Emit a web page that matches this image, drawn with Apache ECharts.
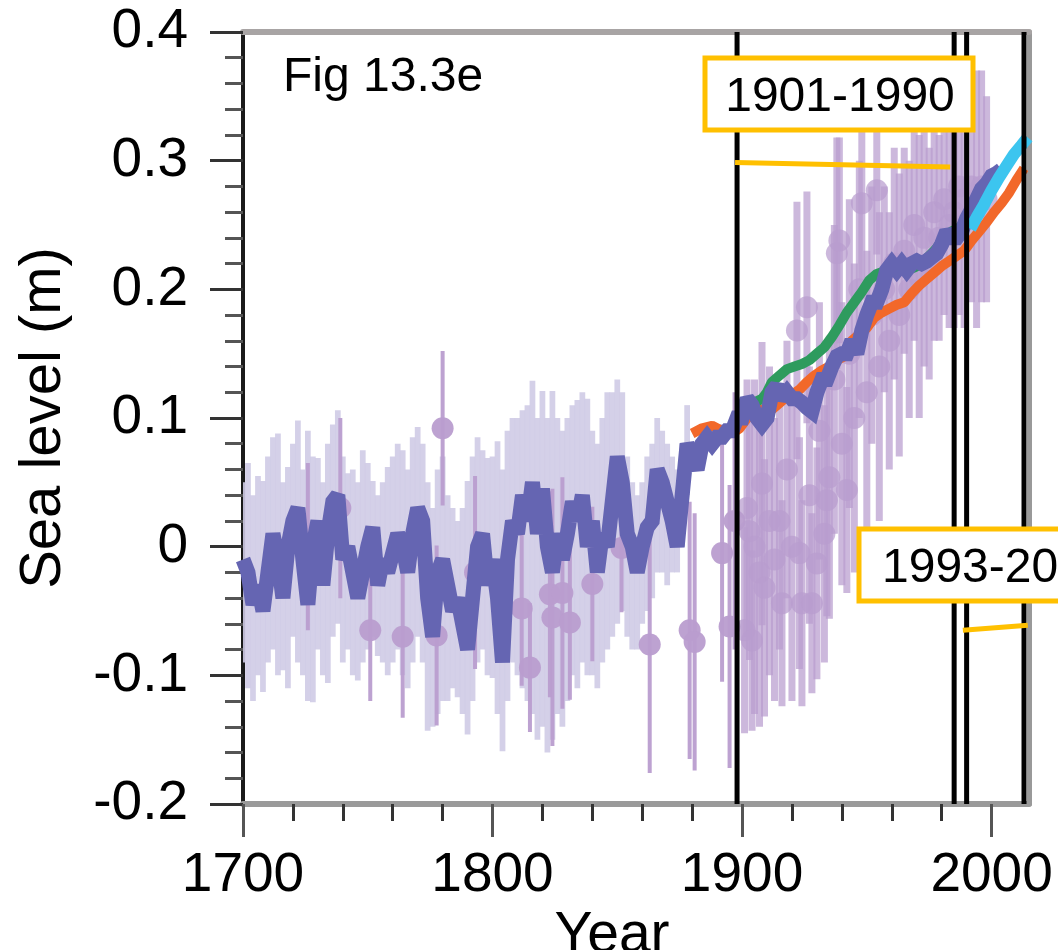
<!DOCTYPE html>
<html>
<head>
<meta charset="utf-8">
<script src="https://cdn.jsdelivr.net/npm/echarts@6/dist/echarts.min.js"></script>
<style>
html,body{margin:0;padding:0;background:#fff;}
#chart{width:1058px;height:950px;}
</style>
</head>
<body>
<div id="chart"></div>
<script>
// ---------------- DATA ----------------
const xMinorTicks = [1700,1720,1740,1760,1780,1800,1820,1840,1860,1880,1900,1920,1940,1960,1980,2000];
const xMajorTicks = [1700,1800,1900,2000];
const xTickLabels = [1700,1800,1900,2000];
const yTickLabels = [-0.2,-0.1,0,0.1,0.2,0.3,0.4];

// reconstruction (thick blue-violet line) [year, sea level m]
const reconstruction = [
[1700,-0.01],[1702,-0.02],[1704,-0.045],[1706,-0.03],[1708,-0.05],[1710,-0.02],[1712,0.01],[1714,-0.01],
[1716,-0.04],[1718,0.0],[1720,0.02],[1722,0.03],[1724,-0.01],[1726,-0.045],[1728,0.0],[1730,0.02],
[1732,-0.03],[1734,0.01],[1736,0.035],[1738,0.04],[1740,-0.01],[1742,0.0],[1744,-0.02],[1746,-0.04],
[1748,-0.02],[1750,0.0],[1752,0.015],[1754,-0.03],[1756,-0.01],[1758,-0.02],[1760,-0.005],[1762,0.01],
[1764,0.0],[1766,-0.02],[1768,0.01],[1770,0.03],[1772,0.02],[1774,-0.04],[1776,-0.07],[1778,-0.02],
[1780,-0.01],[1782,-0.03],[1784,-0.05],[1786,-0.04],[1788,-0.06],[1790,-0.08],[1792,-0.04],[1794,0.0],
[1796,0.01],[1798,-0.03],[1800,-0.01],[1802,-0.04],[1804,-0.09],[1806,-0.01],[1808,0.02],[1810,0.01],
[1812,0.04],[1814,0.02],[1816,0.05],[1818,0.01],[1820,0.045],[1822,0.0],[1824,-0.02],[1826,0.01],
[1828,-0.01],[1830,0.01],[1832,0.035],[1834,0.02],[1836,0.04],[1838,0.0],[1840,0.02],[1842,-0.02],
[1844,0.01],[1846,0.0],[1848,0.035],[1850,0.07],[1852,0.05],[1854,0.01],[1856,0.0],[1858,-0.02],
[1860,0.0],[1862,0.015],[1864,0.02],[1866,0.06],[1868,0.05],[1870,0.035],[1872,0.02],[1874,0.0],
[1876,0.04],[1878,0.08],[1880,0.07],[1882,0.06],[1884,0.08],[1886,0.085],[1888,0.08],[1890,0.085],
[1892,0.085],[1894,0.09],[1896,0.09],[1898,0.1],[1900,0.1],[1902,0.115],[1904,0.11],[1906,0.1],
[1908,0.095],[1910,0.1],[1912,0.12],[1914,0.125],[1916,0.115],[1918,0.12],[1920,0.115],[1922,0.115],
[1924,0.112],[1926,0.108],[1928,0.105],[1930,0.12],[1932,0.13],[1934,0.13],[1936,0.14],[1938,0.148],
[1940,0.15],[1942,0.15],[1944,0.16],[1946,0.15],[1948,0.168],[1950,0.18],[1952,0.19],[1954,0.19],
[1956,0.2],[1958,0.215],[1960,0.22],[1962,0.215],[1964,0.22],[1966,0.215],[1968,0.22],[1970,0.222],
[1972,0.22],[1974,0.222],[1976,0.225],[1978,0.228],[1980,0.235],[1982,0.245],[1984,0.24],[1986,0.24],
[1988,0.245],[1990,0.255],[1992,0.262],[1994,0.27],[1996,0.278],[1998,0.282],[2000,0.288],[2002,0.29],[2004,0.293]
];

// uncertainty band of the reconstruction [year, lower, upper]
const reconBand = [
[1700,-0.09,0.05],[1702,-0.11,0.065],[1704,-0.12,0.04],[1706,-0.1,0.055],[1708,-0.113,0.051],[1710,-0.09,0.07],
[1712,-0.08,0.085],[1714,-0.1,0.088],[1716,-0.096,0.05],[1718,-0.11,0.062],[1720,-0.07,0.08],[1722,-0.09,0.098],
[1724,-0.1,0.06],[1726,-0.12,0.09],[1728,-0.121,0.07],[1730,-0.08,0.069],[1732,-0.1,0.05],[1734,-0.106,0.08],
[1736,-0.07,0.095],[1738,-0.06,0.106],[1740,-0.09,0.07],[1742,-0.08,0.057],[1744,-0.1,0.06],[1746,-0.104,0.05],
[1748,-0.09,0.075],[1750,-0.08,0.065],[1752,-0.07,0.051],[1754,-0.085,0.04],[1756,-0.09,0.05],[1758,-0.1,0.062],
[1760,-0.09,0.07],[1762,-0.08,0.08],[1764,-0.1,0.075],[1766,-0.11,0.06],[1768,-0.09,0.085],[1770,-0.07,0.093],
[1772,-0.09,0.08],[1774,-0.143,0.05],[1776,-0.14,0.03],[1778,-0.13,0.06],[1780,-0.12,0.07],[1782,-0.12,0.04],
[1784,-0.11,0.03],[1786,-0.117,0.02],[1788,-0.13,0.03],[1790,-0.146,0.051],[1792,-0.12,0.07],[1794,-0.09,0.085],
[1796,-0.08,0.075],[1798,-0.1,0.069],[1800,-0.102,0.07],[1802,-0.13,0.082],[1804,-0.159,0.06],[1806,-0.12,0.09],
[1808,-0.09,0.1],[1810,-0.1,0.1],[1812,-0.11,0.106],[1814,-0.12,0.11],[1816,-0.13,0.129],[1818,-0.15,0.1],
[1820,-0.14,0.121],[1822,-0.16,0.1],[1824,-0.15,0.121],[1826,-0.13,0.1],[1828,-0.14,0.09],[1830,-0.12,0.1],
[1832,-0.1,0.11],[1834,-0.11,0.114],[1836,-0.09,0.12],[1838,-0.1,0.115],[1840,-0.1,0.09],[1842,-0.11,0.08],
[1844,-0.09,0.1],[1846,-0.08,0.12],[1848,-0.07,0.12],[1850,-0.06,0.13],[1852,-0.05,0.12],[1854,-0.07,0.07],
[1856,-0.08,0.05],[1858,-0.08,0.04],[1860,-0.06,0.05],[1862,-0.05,0.07],[1864,-0.04,0.08],[1866,-0.02,0.1],
[1868,-0.02,0.09],[1870,-0.03,0.08],[1872,-0.02,0.07],[1874,-0.02,0.06],[1876,0.0,0.08],[1878,0.04,0.11]
];

// individual estimates with error bars [year, value, half-error]
const estimatesEarly = [
[1726,0.0,0.065],[1739,0.03,0.07],[1751,-0.065,0.055],[1764,-0.07,0.063],[1777.6,-0.069,0.07],[1780,0.092,0.06],
[1793,-0.02,0.075],[1811.7,-0.048,0.06],[1815,-0.094,0.05],[1823,-0.037,0.08],[1824,-0.055,0.1],[1828,-0.036,0.09],
[1831,-0.059,0.06],[1840,-0.029,0.06],[1851.7,-0.001,0.05],[1863,-0.076,0.1],[1879,-0.065,0.1],[1881,-0.074,0.1],
[1892,-0.005,0.1],[1895,-0.062,0.11],[1897,0.02,0.1]
];
const estimatesLate = [
[1901,-0.065,0.08],[1902,0.03,0.1],[1903,0.012,0.1],[1904,-0.073,0.07],[1905,0.0,0.13],[1907,-0.02,0.12],
[1908,0.049,0.11],[1909,-0.032,0.1],[1911,0.02,0.12],[1913,-0.01,0.11],[1915,0.02,0.1],[1916,-0.044,0.08],
[1918,0.06,0.1],[1920,0.0,0.12],[1922,0.168,0.1],[1923,-0.005,0.09],[1924,-0.044,0.08],[1926,0.186,0.09],
[1927,0.04,0.1],[1928,-0.044,0.07],[1930,-0.013,0.09],[1931,0.09,0.1],[1933,0.01,0.1],[1934,0.036,0.09],
[1935,0.054,0.11],[1937,0.13,0.12],[1938,0.228,0.09],[1939,0.238,0.08],[1940,0.08,0.11],[1942,0.044,0.08],
[1943,0.15,0.12],[1945,0.1,0.12],[1947,0.2,0.1],[1948,0.267,0.06],[1950,0.12,0.11],[1952,0.18,0.1],
[1954,0.277,0.05],[1955,0.14,0.12],[1957,0.2,0.08],[1959,0.16,0.1],[1961,0.22,0.09],[1963,0.18,0.11],
[1965,0.23,0.08],[1967,0.2,0.1],[1969,0.25,0.09],[1971,0.21,0.11],[1973,0.24,0.1],[1975,0.22,0.09],
[1977,0.26,0.1],[1979,0.24,0.08],[1981,0.27,0.09],[1983,0.25,0.08],[1985,0.26,0.09],[1987,0.28,0.1],
[1989,0.27,0.1],[1992,0.28,0.09],[1994,0.27,0.1],[1996,0.28,0.09],[1998,0.27,0.08]
];

const greenSeries = [
[1905,0.112],[1908,0.115],[1910,0.12],[1912,0.128],[1915,0.133],[1918,0.138],[1921,0.14],[1924,0.142],
[1927,0.145],[1930,0.15],[1933,0.155],[1936,0.163],[1939,0.172],[1942,0.182],[1945,0.19],[1948,0.198],
[1951,0.207],[1954,0.212],[1957,0.214],[1960,0.215],[1963,0.214],[1966,0.215],[1969,0.217],[1972,0.22],
[1975,0.226],[1978,0.232],[1981,0.24],[1984,0.245],[1987,0.248],[1990,0.252]
];
const orangeSeries = [
[1880,0.088],[1884,0.092],[1888,0.094],[1892,0.09],[1896,0.088],[1899,0.092],[1902,0.1],[1905,0.108],
[1908,0.106],[1911,0.105],[1914,0.11],[1917,0.115],[1920,0.118],[1923,0.122],[1926,0.128],[1929,0.133],
[1932,0.137],[1935,0.14],[1938,0.145],[1941,0.148],[1944,0.16],[1947,0.165],[1950,0.17],[1953,0.178],
[1956,0.182],[1959,0.185],[1962,0.188],[1965,0.19],[1968,0.197],[1971,0.203],[1974,0.208],[1977,0.213],
[1980,0.218],[1983,0.222],[1986,0.226],[1989,0.23],[1992,0.238],[1995,0.245],[1998,0.252],[2001,0.26],
[2004,0.267],[2007,0.275],[2010,0.285],[2013,0.294]
];
const cyanSeries = [
[1991.5,0.247],[1994,0.256],[1997,0.266],[2000,0.277],[2003,0.287],[2006,0.296],[2009,0.305],[2012,0.312],[2014.5,0.318]
];

const periodLines = [1898,1985,1990,2013];
const trend1901 = [[1897.2,0.2985],[1983.4,0.295]];
const trend1993 = [[1988.5,-0.065],[2014.5,-0.061]];

// ---------------- CHART ----------------
const FONT = '"Liberation Sans", Arial, sans-serif';
const PURPLE = '#b99dcf';

function errRender(width, opacity) {
  return function (params, api) {
    const x = api.value(0), v = api.value(1), e = api.value(2);
    const t = api.coord([x, v + e]), b = api.coord([x, v - e]), c = api.coord([x, v]);
    return {
      type: 'group',
      children: [
        {type: 'line', shape: {x1: t[0], y1: t[1], x2: b[0], y2: b[1]},
         style: {stroke: PURPLE, lineWidth: width, opacity: opacity}},
        {type: 'circle', shape: {cx: c[0], cy: c[1], r: 11},
         style: {fill: PURPLE, opacity: opacity}}
      ]
    };
  };
}

const chart = echarts.init(document.getElementById('chart'), null, {renderer: 'canvas'});
const option = {
  animation: false,
  backgroundColor: '#fff',
  textStyle: {fontFamily: FONT},
  grid: {left: 243, top: 32, width: 786, height: 772, containLabel: false, outerBoundsMode: 'none'},
  xAxis: [
    {
      type: 'value', min: 1700, max: 2015, position: 'bottom',
      name: 'Year', nameLocation: 'middle', nameGap: 95,
      nameTextStyle: {fontSize: 57, color: '#000', fontFamily: FONT, padding: [0, 48, 0, 0]},
      axisLine: {onZero: false, lineStyle: {color: '#9a9a9a', width: 6}},
      axisTick: {show: true, customValues: xMinorTicks, length: 17, lineStyle: {color: '#333', width: 3}},
      axisLabel: {customValues: xTickLabels, fontSize: 55, color: '#000', margin: 44, fontFamily: FONT,
                  formatter: function (v) { return String(Math.round(v)); }},
      splitLine: {show: false}
    },
    {
      type: 'value', min: 1700, max: 2015, position: 'bottom',
      axisLine: {show: false, onZero: false},
      axisTick: {show: true, customValues: xMajorTicks, length: 33, lineStyle: {color: '#555', width: 3}},
      axisLabel: {show: false},
      splitLine: {show: false}
    },
    {
      type: 'value', min: 1700, max: 2015, position: 'top',
      axisLine: {show: true, onZero: false, lineStyle: {color: '#a8a4a4', width: 6}},
      axisTick: {show: false}, axisLabel: {show: false}, splitLine: {show: false}
    }
  ],
  yAxis: [
    {
      type: 'value', min: -0.2, max: 0.4, interval: 0.1, position: 'left',
      name: 'Sea level (m)', nameLocation: 'middle', nameGap: 170,
      nameTextStyle: {fontSize: 58, color: '#000', fontFamily: FONT},
      axisLine: {show: true, onZero: false, lineStyle: {color: '#1a1a1a', width: 4}},
      axisTick: {show: true, length: 33, lineStyle: {color: '#333', width: 3}},
      minorTick: {show: true, splitNumber: 5, length: 18, lineStyle: {color: '#555', width: 3}},
      axisLabel: {
        customValues: yTickLabels,
        fontSize: 55, color: '#000', margin: 55, fontFamily: FONT,
        formatter: function (v) { return String(Math.round(v * 10) / 10); }
      },
      splitLine: {show: false}
    },
    {
      type: 'value', min: -0.2, max: 0.4, position: 'right',
      axisLine: {show: true, onZero: false, lineStyle: {color: '#999', width: 5}},
      axisTick: {show: false}, axisLabel: {show: false}, splitLine: {show: false}
    }
  ],
  series: [
    {
      type: 'custom', name: 'band', z: 1, clip: true,
      data: reconBand,
      renderItem: function (params, api) {
        const yr = api.value(0);
        const p1 = api.coord([yr - 1.15, api.value(2)]);
        const p2 = api.coord([yr + 1.15, api.value(1)]);
        return {type: 'rect', shape: {x: p1[0], y: p1[1], width: p2[0] - p1[0], height: p2[1] - p1[1]},
                style: {fill: '#cfcbe6', opacity: 0.9}};
      }
    },
    {type: 'custom', name: 'early', z: 2, clip: true, data: estimatesEarly, renderItem: errRender(4, 0.95)},
    {type: 'custom', name: 'late', z: 2, clip: true, data: estimatesLate, renderItem: errRender(7, 0.72)},
    {type: 'line', name: 'orange', z: 3, data: orangeSeries, showSymbol: false, symbol: 'none',
     lineStyle: {color: '#f2682a', width: 10}},
    {type: 'line', name: 'green', z: 4, data: greenSeries, showSymbol: false, symbol: 'none',
     lineStyle: {color: '#2e9b5e', width: 10}},
    {type: 'line', name: 'reconstruction', z: 5, data: reconstruction, showSymbol: false, symbol: 'none',
     lineStyle: {color: '#6565b2', width: 15, join: 'miter', miterLimit: 2}},
    {type: 'line', name: 'cyan', z: 6, data: cyanSeries, showSymbol: false, symbol: 'none',
     lineStyle: {color: '#3cc5ef', width: 12}},
    {
      type: 'custom', name: 'periods', z: 7, clip: false,
      data: periodLines.map(function (y) { return [y]; }),
      renderItem: function (params, api) {
        const yr = api.value(0);
        const t = api.coord([yr, 0.4]), b = api.coord([yr, -0.2]);
        return {type: 'line', shape: {x1: t[0], y1: t[1], x2: b[0], y2: b[1]},
                style: {stroke: '#000', lineWidth: 5}};
      }
    },
    {type: 'line', name: 'trend1901', z: 8, data: trend1901, showSymbol: false, symbol: 'none',
     lineStyle: {color: '#ffc000', width: 5}},
    {type: 'line', name: 'trend1993', z: 8, data: trend1993, showSymbol: false, symbol: 'none',
     lineStyle: {color: '#ffc000', width: 5}}
  ],
  graphic: [
    {type: 'text', z: 20, style: {text: 'Fig 13.3e', x: 283, y: 78, verticalAlign: 'middle',
      fontSize: 48, fontFamily: FONT, fill: '#000'}},
    {type: 'rect', z: 20, shape: {x: 705, y: 58, width: 268, height: 72},
     style: {fill: '#fff', stroke: '#ffc000', lineWidth: 5}},
    {type: 'text', z: 21, style: {text: '1901-1990', x: 840, y: 98, align: 'center', verticalAlign: 'middle',
      fontSize: 48, fontFamily: FONT, fill: '#000'}},
    {type: 'rect', z: 20, shape: {x: 859, y: 529, width: 230, height: 72},
     style: {fill: '#fff', stroke: '#ffc000', lineWidth: 5}},
    {type: 'text', z: 21, style: {text: '1993-20', x: 882, y: 569, align: 'left', verticalAlign: 'middle',
      fontSize: 48, fontFamily: FONT, fill: '#000'}}
  ]
};
chart.setOption(option);
</script>
</body>
</html>
